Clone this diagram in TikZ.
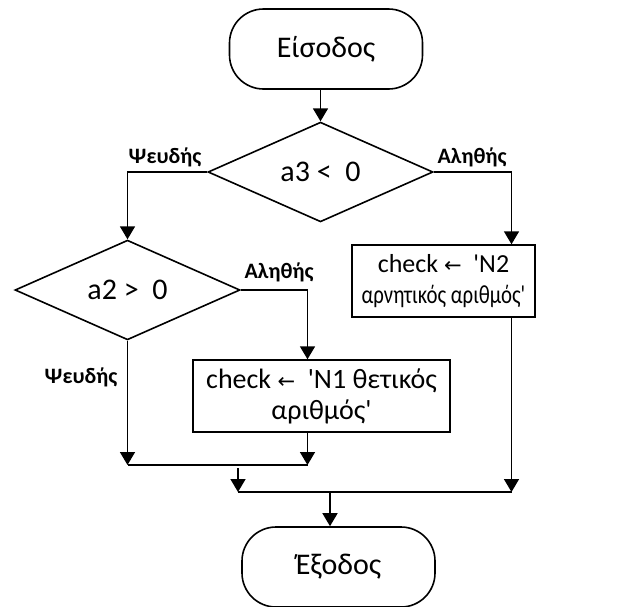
\documentclass[tikz,border=0pt]{standalone}
\usepackage{fontspec}
\setmainfont{Carlito}[Ligatures=TeXOff]
\newfontfamily\symfont{DejaVu Sans}
\usetikzlibrary{shapes, arrows.meta, calc, positioning}
\tikzset{terminal/.style={draw, rectangle, rounded corners=34pt, line width=1.6pt, minimum width=193pt, minimum height=80pt, font=\fontsize{30}{35}\selectfont}}
\tikzset{decision/.style={draw, diamond, line width=1.6pt, minimum width=225pt, minimum height=85pt, inner sep=0pt, font=\fontsize{30}{35}\selectfont}}
\tikzset{process/.style={draw, rectangle, line width=1.4pt, align=center, inner sep=0pt}}
\tikzset{branch/.style={font=\fontsize{22}{25}\selectfont\bfseries}}
\tikzset{line/.style={line width=1.6pt}}
\tikzset{flow/.style={line, -{Triangle[length=13pt, width=15pt]}}}
\newcommand{\assignarrow}{{\symfont\fontsize{21}{23}\selectfont ←}}

\begin{document}
\begin{tikzpicture}[x=1pt, y=-1pt]
        \useasboundingbox (0, 0) rectangle (626, 606);
        \begin{scope}
            \node[terminal] (Start) at (326, 49) {Είσοδος};
            \node[decision] (D1) at (320.5, 172) {a3 <\ \ 0};
            \node[decision] (D2) at (127.5, 290) {a2 >\ \ 0};
            \node[process, minimum width=183pt, minimum height=72pt, font=\fontsize{26}{31}\selectfont] (N2) at (443.5, 281) {check \assignarrow\ \ 'N2\\\scalebox{0.8}[1]{αρνητικός αριθμός'}};
            \node[process, minimum width=257pt, minimum height=72pt, font=\fontsize{28}{31}\selectfont] (N1) at (321.5, 396) {check \assignarrow\ \ 'N1 θετικός\\αριθμός'};
            \node[terminal] (End) at (338.5, 567) {Έξοδος};

            \node[branch] (F1) at (165, 157) {Ψευδής};
            \node[branch] (T1) at (472, 157) {Αληθής};
            \node[branch] (T2) at (279, 272) {Αληθής};
            \node[branch] (F2) at (81, 377) {Ψευδής};

            \coordinate (Jl) at (127.5, 465);
            \coordinate (Jr) at (307.5, 465);
            \coordinate (Ja) at (238, 468);
            \coordinate (Jb) at (238, 492);
            \coordinate (Jc) at (511.5, 492);
            \coordinate (Jd) at (330, 492);

            \draw [flow] (D1.north |- Start.south) -- (D1.north);
            \draw [flow] (D1.west) -| (D2.north);
            \draw [flow] (D1.east) -| ([xshift=68pt]N2.north);
            \draw [flow] (D2.east) -| ([xshift=-14pt]N1.north);

            \draw [flow] (D2.south) -- (Jl);
            \draw [flow] ([xshift=-14pt]N1.south) -- (Jr);
            \draw [line] (Jl) -- (Jr);
            \draw [flow] (Ja) -- (Jb);
            \draw [line] (Jb) -- (Jc);
            \draw [flow] ([xshift=68pt]N2.south) -- (Jc);
            \draw [flow] (Jd) -- (Jd |- End.north);
        \end{scope}
    \end{tikzpicture}
\end{document}
